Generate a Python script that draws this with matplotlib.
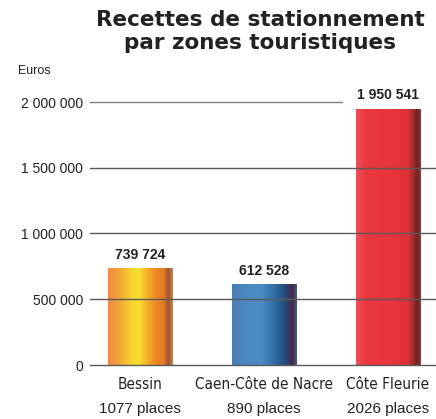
import matplotlib.pyplot as plt
import numpy as np
from matplotlib.colors import LinearSegmentedColormap

zones = ['Bessin', 'Caen-Côte de Nacre', 'Côte Fleurie']
places = ['1077 places', '890 places', '2026 places']
recettes = [739724, 612528, 1950541]
value_labels = ['739 724', '612 528', '1 950 541']
yticks = [0, 500000, 1000000, 1500000, 2000000]
ytick_labels = ['0', '500 000', '1 000 000', '1 500 000', '2 000 000']

gradients = [
    [(0.0, '#f08a48'), (0.15, '#f3a03c'), (0.35, '#f6cf2e'), (0.48, '#f7e02c'),
     (0.62, '#f3aa2a'), (0.75, '#ef8624'), (0.86, '#e57a26'), (0.93, '#9a5530'), (1.0, '#d9803a')],
    [(0.0, '#4a7db2'), (0.2, '#4d88c0'), (0.45, '#4a8cc4'), (0.62, '#3674aa'),
     (0.78, '#245689'), (0.86, '#2a3f6c'), (0.93, '#4a2646'), (1.0, '#3a5a8a')],
    [(0.0, '#ec5058'), (0.15, '#e9383f'), (0.6, '#e8343b'), (0.8, '#dc3036'),
     (0.88, '#a82a2c'), (0.94, '#702224'), (1.0, '#a03030')],
]

fig = plt.figure(figsize=(4.36, 4.19), dpi=100)
ax = fig.add_axes([90/436, 54/419, 346/436, 263/419])
ax.set_xlim(-0.403, 2.387)
ax.set_ylim(0, 2000000)

x = np.arange(len(zones))
bars = ax.bar(x, recettes, width=0.52, color='none', edgecolor='none')
for bar, cols in zip(bars, gradients):
    cmap = LinearSegmentedColormap.from_list('g', cols)
    grad = np.linspace(0, 1, 256).reshape(1, -1)
    x0, y0 = bar.get_x(), bar.get_y()
    im = ax.imshow(grad, cmap=cmap, aspect='auto', interpolation='bilinear',
                   extent=[x0, x0 + bar.get_width(), y0, y0 + bar.get_height()], zorder=1)
    im.set_clip_path(bar)

# grid lines drawn above the bars
for v in yticks:
    if v == 2000000:
        ax.axhline(v, xmin=0, xmax=0.728, color='#808080', lw=1.0, zorder=3, clip_on=False)
    else:
        ax.axhline(v, color='#5a5a5a', lw=1.0, zorder=3, clip_on=False)

ax.set_yticks(yticks)
ax.set_yticklabels(ytick_labels, family='Liberation Sans', fontsize=10, color='#222222')
ax.tick_params(axis='y', length=0, pad=5)
ax.set_xticks([])
for s in ax.spines.values():
    s.set_visible(False)

for xi, val, lab in zip(x, recettes, value_labels):
    ax.annotate(lab, (xi, val), xytext=(0, 9.5), textcoords='offset points',
                ha='center', va='center', fontsize=10, fontweight='bold',
                family='Liberation Sans', color='#222222', annotation_clip=False)

for xi, z, p in zip(x, zones, places):
    ax.annotate(z, (xi, 0), xycoords=('data', 'axes fraction'), xytext=(0, -14),
                textcoords='offset points', ha='center', va='center', fontsize=11,
                family='DejaVu Sans', stretch='condensed', color='#222222', annotation_clip=False)
    ax.annotate(p, (xi, 0), xycoords=('data', 'axes fraction'), xytext=(0, -32),
                textcoords='offset points', ha='center', va='center', fontsize=11,
                family='Liberation Sans', color='#222222', annotation_clip=False)

fig.text(0.597, 1 - 10/419, 'Recettes de stationnement\npar zones touristiques',
         ha='center', va='top', fontsize=15.5, fontweight='bold', linespacing=1.2,
         family='DejaVu Sans', color='#222222')
fig.text(18/436, 1 - 71/419, 'Euros', ha='left', va='center', fontsize=9,
         family='Liberation Sans', color='#222222')

fig.savefig('out.png', dpi=100)
